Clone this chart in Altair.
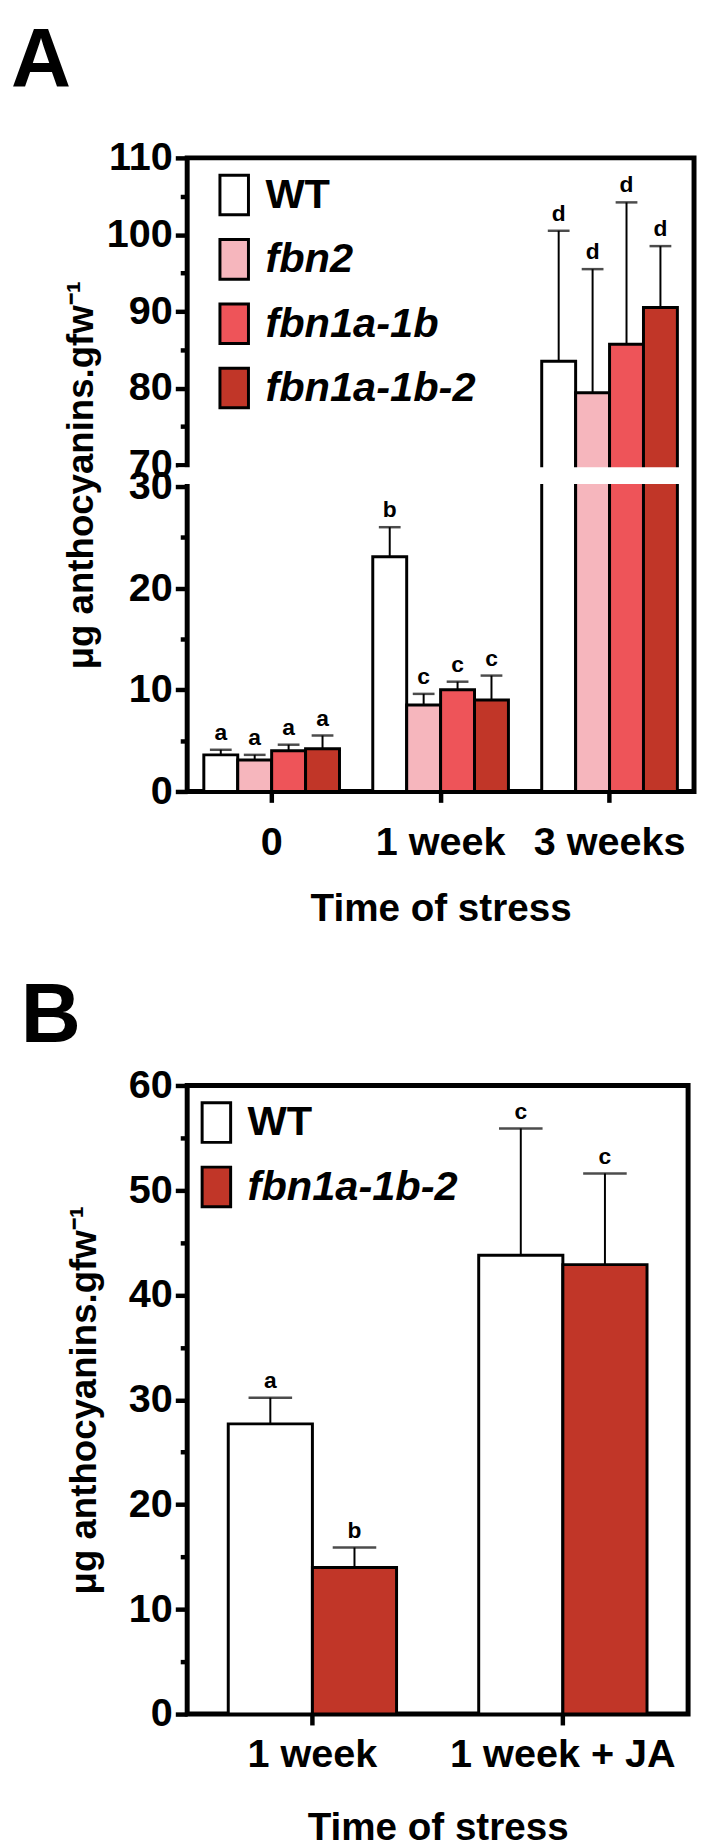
import altair as alt
import pandas as pd

FONT = "Liberation Sans"

# ---------------- Panel A data ----------------
times_a = ["0", "1 week", "3 weeks"]
genotypes_a = ["WT", "fbn2", "fbn1a-1b", "fbn1a-1b-2"]
colors_a = ["#FFFFFF", "#F6B6BD", "#EE5459", "#C13628"]
mean_a_0 = [3.6, 3.1, 4.0, 4.2]
mean_a_1w = [23.1, 8.5, 10.0, 9.0]
mean_a_3w = [83.5, 79.4, 85.7, 90.5]
err_a_0 = [0.5, 0.5, 0.6, 1.3]
err_a_1w = [2.9, 1.1, 0.8, 2.4]
err_a_3w = [17.0, 16.1, 18.5, 8.0]
letters_a_0 = ["a", "a", "a", "a"]
letters_a_1w = ["b", "c", "c", "c"]
letters_a_3w = ["d", "d", "d", "d"]
ticks_a_lower = [0, 5, 10, 15, 20, 25, 30]
ticks_a_upper = [70, 75, 80, 85, 90, 95, 100, 105, 110]

# ---------------- Panel B data ----------------
times_b = ["1 week", "1 week + JA"]
genotypes_b = ["WT", "fbn1a-1b-2"]
colors_b = ["#FFFFFF", "#C13628"]
mean_b_1w = [27.7, 14.0]
mean_b_ja = [43.8, 42.9]
err_b_1w = [2.5, 1.9]
err_b_ja = [12.1, 8.7]
letters_b_1w = ["a", "b"]
letters_b_ja = ["c", "c"]
ticks_b = [0, 5, 10, 15, 20, 25, 30, 35, 40, 45, 50, 55, 60]

rows_a = []
for t, means, errs, lets in zip(times_a, [mean_a_0, mean_a_1w, mean_a_3w],
                                [err_a_0, err_a_1w, err_a_3w],
                                [letters_a_0, letters_a_1w, letters_a_3w]):
    for g, m, e, l in zip(genotypes_a, means, errs, lets):
        rows_a.append({"time": t, "geno": g, "mean": m, "err": e, "letter": l})
df_a = pd.DataFrame(rows_a)

rows_b = []
for t, means, errs, lets in zip(times_b, [mean_b_1w, mean_b_ja],
                                [err_b_1w, err_b_ja], [letters_b_1w, letters_b_ja]):
    for g, m, e, l in zip(genotypes_b, means, errs, lets):
        rows_b.append({"time_b": t, "geno_b": g, "mean_b": m, "err_b": e, "letter_b": l})
df_b = pd.DataFrame(rows_b)

# ---------------- broken axis mapping for panel A ----------------
LOW_MAX, LOW_LEN = 30, 308.0       # 0..30 -> 0..308
UP_MIN, UP_MAX = 70, 110
UP_START, UP_LEN = 330.0, 310.0    # 70..110 -> 330..640
TOTAL = UP_START + UP_LEN
k_low = LOW_LEN / LOW_MAX
k_up = UP_LEN / (UP_MAX - UP_MIN)


def disp(v):
    return v * k_low if v <= LOW_MAX else UP_START + (v - UP_MIN) * k_up


def disp_expr(field):
    return (f"datum.{field} <= {LOW_MAX} ? datum.{field} * {k_low} : "
            f"{UP_START} + (datum.{field} - {UP_MIN}) * {k_up}")


inv = (f"round(datum.value <= {(LOW_LEN + UP_START) / 2} ? datum.value / {k_low} : "
       f"{UP_MIN} + (datum.value - {UP_START}) / {k_up})")
tick_vals_a = [disp(v) for v in ticks_a_lower + ticks_a_upper]

W_A, H_A = 512, 640
W_B, H_B = 506, 635
YTITLE = "\u03bcg anthocyanins.gfw\u207b\u00b9"
LABEL_FS = 40

legend_common = dict(
    orient="none", title=None, padding=0,
    symbolType="M-0.72,-1H0.72V1H-0.72Z", symbolSize=1600,
    symbolStrokeColor="black", symbolStrokeWidth=3,
    labelFont=FONT, labelFontSize=42, labelFontWeight="bold", labelColor="black",
    labelFontStyle=alt.ExprRef(expr="datum.value == 'WT' ? 'normal' : 'italic'"),
    labelOffset=10, rowPadding=12, labelLimit=400,
)

# ---------------- Panel A ----------------
base_a = alt.Chart(df_a).transform_calculate(
    top="datum.mean + datum.err"
).transform_calculate(
    yd=disp_expr("mean"), yt=disp_expr("top")
)

x_a = alt.X("time:N",
            scale=alt.Scale(domain=times_a, paddingInner=0.197, paddingOuter=0.0985),
            axis=alt.Axis(title="Time of stress", labelAngle=0, tickSize=11,
                          labelPadding=21, titlePadding=27, domain=False,
                          labelLimit=400, titleFontSize=39))
xo_a = alt.XOffset("geno:N",
                   scale=alt.Scale(domain=genotypes_a, paddingInner=0, paddingOuter=0))
y_a = alt.Y("yd:Q", scale=alt.Scale(domain=[0, TOTAL], nice=False, zero=True),
            axis=alt.Axis(title=YTITLE, values=tick_vals_a, labelOverlap=False,
                          labelExpr=f"{inv} % 10 == 0 ? toString({inv}) : ''",
                          tickSize={"condition": {"test": f"{inv} % 10 == 0", "value": 12},
                                    "value": 7},
                          labelPadding=3, titlePadding=6, domain=False,
                          titleFontSize=37))

bars_a = base_a.mark_bar(stroke="black", strokeWidth=3).encode(
    x=x_a, xOffset=xo_a, y=y_a,
    fill=alt.Fill("geno:N", scale=alt.Scale(domain=genotypes_a, range=colors_a),
                  legend=alt.Legend(legendX=26, legendY=16, **legend_common)),
)
rules_a = base_a.mark_rule(strokeWidth=2, color="black").encode(
    x=x_a, xOffset=xo_a, y="yd:Q", y2="yt:Q")
caps_a = base_a.mark_tick(thickness=2.5, size=22, color="black").encode(
    x=x_a, xOffset=xo_a, y="yt:Q")
text_a = base_a.mark_text(font=FONT, fontSize=23, fontWeight="bold", baseline="bottom",
                          dy=-5, color="black").encode(
    x=x_a, xOffset=xo_a, y="yt:Q", text="letter:N")
gap_a = alt.Chart(pd.DataFrame({"g": [0]})).mark_rect(color="white").encode(
    y=alt.datum(LOW_LEN + 2.5), y2=alt.datum(UP_START - 2.5),
    x=alt.value(-9), x2=alt.value(W_A - 4))

chart_a = alt.layer(rules_a, bars_a, caps_a, text_a, gap_a).properties(
    width=W_A, height=H_A,
    title=alt.TitleParams("A", anchor="start", frame="group", dx=-178, offset=34,
                          fontSize=84, font=FONT, fontWeight="bold", color="black"),
)

# ---------------- Panel B ----------------
base_b = alt.Chart(df_b).transform_calculate(top_b="datum.mean_b + datum.err_b")
x_b = alt.X("time_b:N",
            scale=alt.Scale(domain=times_b, paddingInner=0.328, paddingOuter=0.164),
            axis=alt.Axis(title="Time of stress", labelAngle=0, tickSize=11,
                          labelPadding=10, titlePadding=35, domain=False,
                          labelLimit=400, titleFontSize=39))
xo_b = alt.XOffset("geno_b:N",
                   scale=alt.Scale(domain=genotypes_b, paddingInner=0, paddingOuter=0))
y_b = alt.Y("mean_b:Q", scale=alt.Scale(domain=[0, 60], nice=False),
            axis=alt.Axis(title=YTITLE, values=ticks_b, labelOverlap=False,
                          labelExpr="datum.value % 10 == 0 ? toString(datum.value) : ''",
                          tickSize={"condition": {"test": "datum.value % 10 == 0", "value": 12},
                                    "value": 7},
                          labelPadding=3, titlePadding=25, domain=False,
                          titleFontSize=37))
bars_b = base_b.mark_bar(stroke="black", strokeWidth=3).encode(
    x=x_b, xOffset=xo_b, y=y_b,
    fill=alt.Fill("geno_b:N", scale=alt.Scale(domain=genotypes_b, range=colors_b),
                  legend=alt.Legend(legendX=8, legendY=16, **legend_common)),
)
rules_b = base_b.mark_rule(strokeWidth=2, color="black").encode(
    x=x_b, xOffset=xo_b, y="mean_b:Q", y2="top_b:Q")
caps_b = base_b.mark_tick(thickness=2.5, size=44, color="black").encode(
    x=x_b, xOffset=xo_b, y="top_b:Q")
text_b = base_b.mark_text(font=FONT, fontSize=23, fontWeight="bold", baseline="bottom",
                          dy=-5, color="black").encode(
    x=x_b, xOffset=xo_b, y="top_b:Q", text="letter_b:N")

chart_b = alt.layer(rules_b, bars_b, caps_b, text_b).properties(
    width=W_B, height=H_B,
    title=alt.TitleParams("B", anchor="start", frame="group", dx=-168, offset=6,
                          fontSize=84, font=FONT, fontWeight="bold", color="black"),
)

chart = alt.vconcat(chart_a, chart_b, spacing=42).resolve_scale(
    x="independent", y="independent", xOffset="independent", fill="independent"
).properties(
    padding={"left": 0, "top": 0, "right": 0, "bottom": 0}
).configure_view(
    stroke="black", strokeWidth=5
).configure_axis(
    labelFont=FONT, titleFont=FONT, labelFontSize=LABEL_FS,
    labelFontWeight="bold", titleFontWeight="bold", labelColor="black",
    titleColor="black", tickColor="black", tickWidth=4.5, grid=False,
).configure_legend(
    labelFont=FONT,
)

chart.save("out.html", embed_options={"renderer": "svg", "actions": False})
